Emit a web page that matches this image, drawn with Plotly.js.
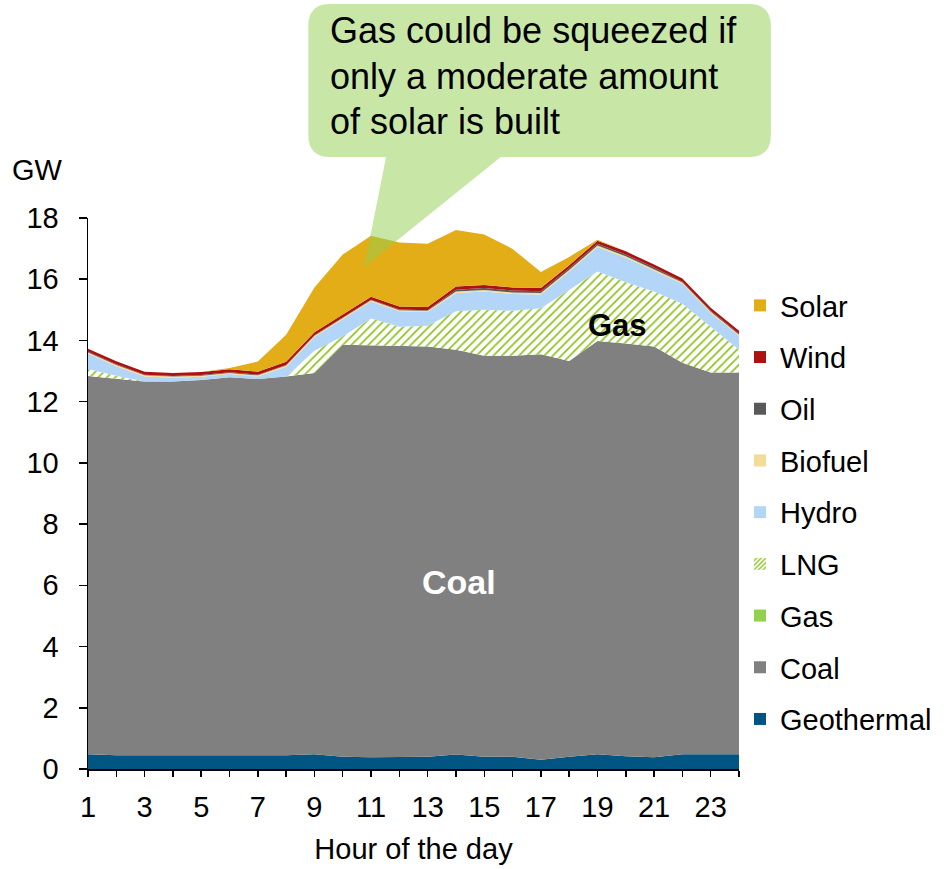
<!DOCTYPE html>
<html>
<head>
<meta charset="utf-8">
<script src="https://cdn.plot.ly/plotly-3.0.1.min.js"></script>
<style>
html,body{margin:0;padding:0;background:#fff;}
#chart{width:949px;height:869px;}
</style>
</head>
<body>
<div id="chart"></div>
<script>
// ---- data (GW by hour of the day) ----
var hours = [1,2,3,4,5,6,7,8,9,10,11,12,13,14,15,16,17,18,19,20,21,22,23,24];
var geothermal = [0.48,0.45,0.45,0.45,0.45,0.45,0.45,0.45,0.48,0.40,0.38,0.40,0.40,0.47,0.40,0.40,0.30,0.40,0.48,0.42,0.38,0.48,0.48,0.48];
var coal = [12.36,12.30,12.21,12.21,12.26,12.35,12.29,12.37,12.46,13.46,13.46,13.40,13.40,13.23,13.10,13.10,13.25,12.93,13.50,13.48,13.42,12.79,12.47,12.47];
var gas = [0,0,0,0,0,0,0,0,0,0,0,0,0,0,0,0,0,0,0,0,0,0,0,0];
var lng = [0.23,0.10,0,0,0,0,0,0,0.72,0.28,0.88,0.65,0.68,1.25,1.50,1.47,1.50,2.32,2.27,2.00,1.80,1.93,1.50,0.75];
var hydro = [0.50,0.31,0.16,0.12,0.10,0.10,0.08,0.32,0.45,0.55,0.55,0.50,0.45,0.60,0.60,0.55,0.45,0.60,0.80,0.80,0.67,0.65,0.45,0.45];
var biofuel = [0.04,0.04,0.04,0.04,0.04,0.04,0.04,0.04,0.04,0.04,0.04,0.04,0.04,0.05,0.05,0.05,0.05,0.05,0.05,0.05,0.05,0.04,0.04,0.04];
var oil = [0.02,0.02,0.02,0.02,0.02,0.02,0.02,0.02,0.02,0.02,0.02,0.02,0.02,0.06,0.06,0.06,0.06,0.06,0.06,0.06,0.06,0.03,0.03,0.03];
var wind = [0.10,0.10,0.10,0.10,0.10,0.10,0.10,0.10,0.10,0.10,0.10,0.10,0.10,0.10,0.10,0.10,0.10,0.10,0.10,0.10,0.10,0.10,0.10,0.10];
var solar = [0,0,0,0,0,0.04,0.33,0.89,1.46,1.96,1.99,2.09,2.07,1.85,1.65,1.26,0.53,0.27,0.03,0,0,0,0,0];

var seriesNames = ["Geothermal","Coal","Gas","LNG","Hydro","Biofuel","Oil","Wind","Solar"];
var seriesValues = [geothermal, coal, gas, lng, hydro, biofuel, oil, wind, solar];
var seriesColors = ["#005582","#808080","#92D050","#92C01E","#B3D5F7","#F5DC96","#595959","#AE1111","#E2AD17"];

var FONT = "Liberation Sans, Arial, sans-serif";
var lngPattern = {shape: "/", fgcolor: "#8DC21F", bgcolor: "#ffffff", size: 6, solidity: 0.28};

var traces = [];
// stacked areas
for (var i = 0; i < seriesNames.length; i++) {
  var t = {
    type: "scatter", x: hours, y: seriesValues[i], name: seriesNames[i],
    stackgroup: "one", mode: "lines", line: {width: 0, color: seriesColors[i]},
    fillcolor: seriesColors[i], showlegend: false, hoverinfo: "x+y+name"
  };
  if (seriesNames[i] === "LNG") { t.fillpattern = lngPattern; t.fillcolor = "#ffffff"; }
  traces.push(t);
}
// legend swatches (top to bottom)
for (var j = seriesNames.length - 1; j >= 0; j--) {
  var m = {color: seriesColors[j], line: {width: 0}};
  if (seriesNames[j] === "LNG") { m = {color: "#ffffff", line: {width: 0}, pattern: {shape: "/", fgcolor: "#8DC21F", bgcolor: "#ffffff", size: 4, solidity: 0.45}}; }
  traces.push({type: "bar", x: [null], y: [null], name: seriesNames[j], marker: m,
    legendgroup: "g" + j, showlegend: true, hoverinfo: "skip"});
}

// pixel -> paper helpers for annotation placement
var L = 88, R = 741, T = 218, B = 769;
function px(v) { return (v - L) / (R - L); }
function py(v) { return (B - v) / (B - T); }
function pt(x, y) { return px(x).toFixed(5) + "," + py(y).toFixed(5); }

var calloutPath = "M" + pt(331,4) + " L" + pt(751,4) + " Q" + pt(773,4) + " " + pt(773,26) +
  " L" + pt(773,135) + " Q" + pt(773,157) + " " + pt(751,157) + " L" + pt(502,157) +
  " L" + pt(365,267) + " L" + pt(387,157) + " L" + pt(331,157) + " Q" + pt(309,157) + " " + pt(309,135) +
  " L" + pt(309,26) + " Q" + pt(309,4) + " " + pt(331,4) + " Z";

var calloutLines = ["Gas could be squeezed if", "only a moderate amount", "of solar is built"];
var calloutY = [31, 76, 121];

var annotations = [
  {text: "GW", xref: "paper", yref: "paper", x: px(37), y: py(170), showarrow: false,
   font: {family: FONT, size: 29, color: "#000"}, xanchor: "center", yanchor: "middle"},
  {text: "<b>Coal</b>", xref: "x", yref: "y", x: 14.1, y: 6.1, showarrow: false,
   font: {family: FONT, size: 34, color: "#ffffff"}},
  {text: "<b>Gas</b>", xref: "x", yref: "y", x: 19.7, y: 14.5, showarrow: false,
   font: {family: FONT, size: 31, color: "#000000"}}
];
for (var k = 0; k < calloutLines.length; k++) {
  annotations.push({text: calloutLines[k], xref: "paper", yref: "paper", x: px(329), y: py(calloutY[k]),
    showarrow: false, xanchor: "left", yanchor: "middle", font: {family: FONT, size: 36, color: "#000"}});
}

var layout = {
  width: 949, height: 869,
  margin: {l: L, r: 949 - R, t: T, b: 869 - B, pad: 0},
  paper_bgcolor: "#ffffff", plot_bgcolor: "#ffffff",
  font: {family: FONT, size: 29, color: "#000"},
  showlegend: true,
  legend: {x: px(742), xanchor: "left", y: py(280), yanchor: "top", traceorder: "grouped",
    tracegroupgap: 11, font: {family: FONT, size: 29, color: "#000"}, bgcolor: "rgba(0,0,0,0)", borderwidth: 0},
  xaxis: {range: [1, 24], tick0: 1, dtick: 2, ticks: "outside", ticklen: 6, tickwidth: 1.5, tickcolor: "#000",
    minor: {dtick: 1, tick0: 1, ticks: "outside", ticklen: 6, tickwidth: 1.5, tickcolor: "#000", showgrid: false},
    showline: true, linecolor: "#000", linewidth: 1.5, showgrid: false, zeroline: false,
    ticklabelstandoff: 6, tickfont: {family: FONT, size: 29, color: "#000"},
    title: {text: "Hour of the day", font: {family: FONT, size: 29, color: "#000"}, standoff: 16}, fixedrange: true},
  yaxis: {range: [0, 18], tick0: 0, dtick: 2, ticks: "outside", ticklen: 8, tickwidth: 1.5, tickcolor: "#000",
    showline: true, linecolor: "#000", linewidth: 1.5, showgrid: false, zeroline: false,
    ticklabelstandoff: 14, tickfont: {family: FONT, size: 29, color: "#000"}, fixedrange: true},
  shapes: [{type: "path", xref: "paper", yref: "paper", path: calloutPath,
    fillcolor: "rgba(146,208,80,0.5)", line: {width: 0}, layer: "above"}],
  annotations: annotations
};

Plotly.newPlot("chart", traces, layout, {displayModeBar: false, staticPlot: true});
</script>
</body>
</html>
